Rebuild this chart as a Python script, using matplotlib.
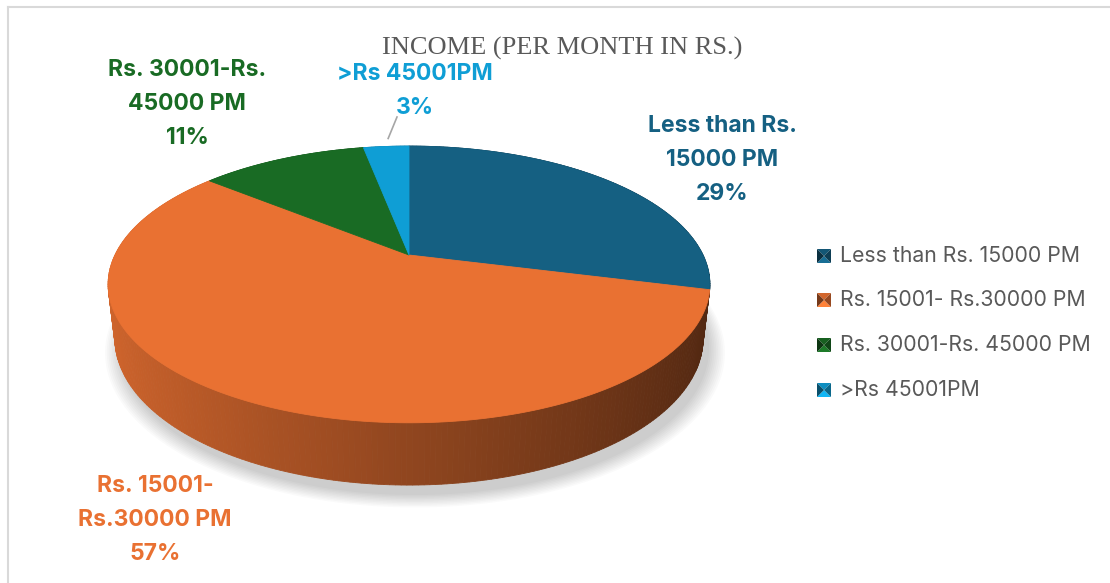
import numpy as np
import matplotlib.pyplot as plt
from matplotlib.patches import Polygon
from matplotlib.colors import to_rgb

# data
title = 'INCOME (PER MONTH IN RS.)'
categories = ['Less than Rs. 15000 PM', 'Rs. 15001- Rs.30000 PM',
              'Rs. 30001-Rs. 45000 PM', '>Rs 45001PM']
shares = [29, 57, 11, 3]
slice_labels = ['Less than Rs.\n15000 PM', 'Rs. 15001-\nRs.30000 PM',
                'Rs. 30001-Rs.\n45000 PM', '>Rs 45001PM']
colors = ['#156082', '#E97132', '#196B24', '#0F9ED5']

# where the data labels sit (pixels)
label_pos = [(722, 160), (155, 520), (187, 104), (415, 91)]

# pie geometry / simple perspective camera (pixels)
cx, cy = 409, 255
scale = 294
tilt = np.radians(26.7)
dist = 4.2
thick = 0.206


def project(theta, r=1.0, h=0.0):
    X = r * np.sin(theta)
    Z = r * np.cos(theta)          # +1 is the back of the pie
    depth = dist + Z * np.cos(tilt) + h * np.sin(tilt)
    yc = Z * np.sin(tilt) - h * np.cos(tilt)
    return cx + scale * X * dist / depth, cy - scale * yc * dist / depth


def shade(col, f):
    return tuple(np.clip(np.array(to_rgb(col)) * f, 0, 1))


fig = plt.figure(figsize=(11.1, 5.83), dpi=100)
ax = fig.add_axes([0, 0, 1, 1])
ax.set_xlim(0, 1110)
ax.set_ylim(583, 0)
ax.axis('off')

# chart frame
ax.plot([8, 8], [7, 590], color='#d9d9d9', lw=1.5)
ax.plot([8, 1115], [7, 7], color='#d9d9d9', lw=1.5)

total = float(sum(shares))
bounds = np.concatenate([[0], np.cumsum(shares)]) / total * 2 * np.pi

# soft shadow under the pie
t = np.linspace(0, 2 * np.pi, 200)
bx, by = project(t, 1.0, thick)
for k in range(10):
    g = 1 + 0.006 * k
    ax.add_patch(Polygon(np.column_stack([cx + (bx - cx) * g + 6, cy + (by - cy) * g + 10]),
                         closed=True, fc='black', ec='none', alpha=0.018, zorder=1))

# side wall, back to front
segs = []
for i, col in enumerate(colors):
    ts = np.linspace(bounds[i], bounds[i + 1], max(3, int(shares[i] * 4)))
    for a, b in zip(ts[:-1], ts[1:]):
        m = 0.5 * (a + b)
        segs.append((np.cos(m), a, b, col, m))
segs.sort(key=lambda s: -s[0])
for _, a, b, col, m in segs:
    x1, y1 = project(a)
    x2, y2 = project(b)
    x3, y3 = project(b, 1.0, thick)
    x4, y4 = project(a, 1.0, thick)
    f = 0.62 - 0.28 * np.sin(m)
    c = shade(col, f)
    ax.add_patch(Polygon([(x1, y1), (x2, y2), (x3, y3), (x4, y4)], closed=True,
                         fc=c, ec=c, lw=0.6, zorder=2))

# top face
ax0, ay0 = project(0.0, 0.0)
for i, col in enumerate(colors):
    ts = np.linspace(bounds[i], bounds[i + 1], max(4, int(shares[i] * 6)))
    px, py = project(ts)
    pts = [(ax0, ay0)] + list(zip(px, py))
    ax.add_patch(Polygon(pts, closed=True, fc=col, ec=col, lw=0.6, zorder=3))

# data labels
for i, (lab, (lx, ly)) in enumerate(zip(slice_labels, label_pos)):
    ax.text(lx, ly, f'{lab}\n{shares[i]}%', color=colors[i], ha='center', va='center',
            fontsize=16.5, fontweight='bold', family='Inter', linespacing=1.68, zorder=5)

# leader line for the small slice
mid = 0.5 * (bounds[3] + bounds[4])
sx, sy = project(mid, 1.0)
ax.plot([sx + 2, 397], [sy - 8, 117], color='#a6a6a6', lw=1.2, zorder=4)

# title
ax.text(562, 48, title, ha='center', va='center', fontsize=19,
        family='Liberation Serif', color='#595959')

# legend with bevelled markers
leg_y = [256, 300, 345, 390]
for col, name, y in zip(colors, categories, leg_y):
    x0, x1, y0, y1 = 817, 831, y - 7, y + 7
    xm, ym = (x0 + x1) / 2, (y0 + y1) / 2
    ax.add_patch(Polygon([(x0, y0), (x1, y0), (xm, ym)], fc=shade(col, 0.9), ec='none'))
    ax.add_patch(Polygon([(x0, y1), (x1, y1), (xm, ym)], fc=shade(col, 1.15), ec='none'))
    ax.add_patch(Polygon([(x0, y0), (x0, y1), (xm, ym)], fc=shade(col, 0.5), ec='none'))
    ax.add_patch(Polygon([(x1, y0), (x1, y1), (xm, ym)], fc=shade(col, 0.65), ec='none'))
    ax.text(840, y, name, ha='left', va='center', fontsize=15.3, family='Inter',
            color='#595959')

fig.savefig('out.png', dpi=100)
